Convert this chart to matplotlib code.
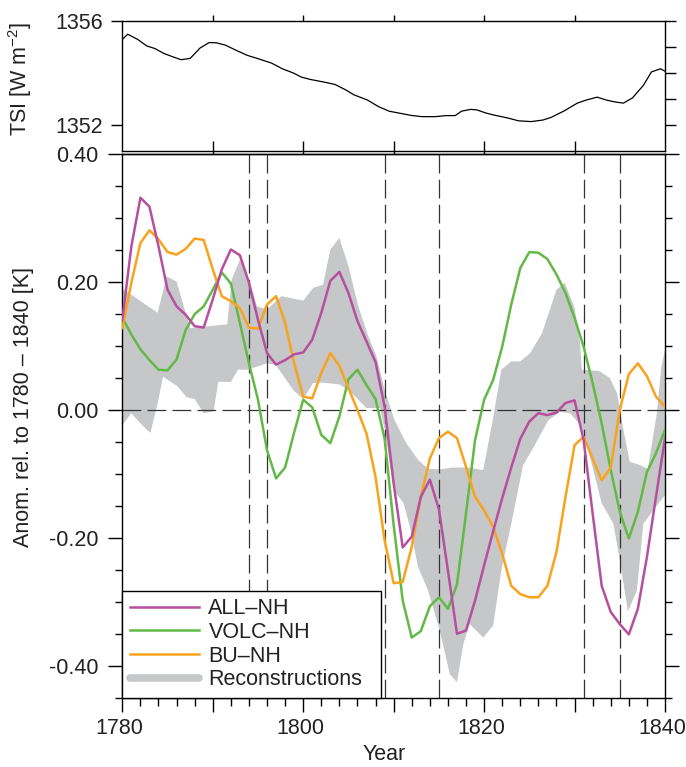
"""TSI (top) and simulated vs reconstructed NH temperature anomalies, 1780-1840."""

import matplotlib

matplotlib.use("Agg")
import matplotlib.pyplot as plt                      # noqa: E402
import matplotlib.transforms as mtransforms          # noqa: E402
import numpy as np                                   # noqa: E402
from matplotlib.lines import Line2D                  # noqa: E402
from matplotlib.ticker import FixedLocator, FixedFormatter, MultipleLocator  # noqa: E402

YEARS = np.arange(1780, 1841)

ALL_NH = [
    0.141, 0.256, 0.332, 0.318, 0.256, 0.188, 0.162, 0.149, 0.131, 0.129,
    0.173, 0.220, 0.251, 0.242, 0.199, 0.141, 0.089, 0.071, 0.078, 0.087,
    0.090, 0.110, 0.152, 0.202, 0.216, 0.183, 0.139, 0.107, 0.075, 0.005,
    -0.115, -0.215, -0.198, -0.136, -0.109, -0.155, -0.251, -0.350, -0.345, -0.298,
    -0.243, -0.190, -0.138, -0.090, -0.045, -0.018, -0.005, -0.008, -0.004, 0.011,
    0.015, -0.047, -0.162, -0.275, -0.316, -0.335, -0.351, -0.311, -0.230, -0.136,
    -0.044,
]
VOLC_NH = [
    0.144, 0.118, 0.095, 0.078, 0.063, 0.062, 0.079, 0.125, 0.150, 0.162,
    0.188, 0.215, 0.198, 0.136, 0.073, 0.016, -0.063, -0.107, -0.090, -0.035,
    0.016, 0.004, -0.039, -0.052, -0.010, 0.048, 0.063, 0.039, 0.017, -0.045,
    -0.180, -0.298, -0.356, -0.346, -0.307, -0.293, -0.311, -0.273, -0.162, -0.047,
    0.016, 0.047, 0.099, 0.165, 0.222, 0.247, 0.246, 0.236, 0.212, 0.183,
    0.144, 0.099, 0.042, -0.021, -0.094, -0.159, -0.201, -0.159, -0.097, -0.068,
    -0.031,
]
BU_NH = [
    0.128, 0.199, 0.261, 0.281, 0.267, 0.247, 0.243, 0.252, 0.268, 0.266,
    0.220, 0.178, 0.170, 0.159, 0.129, 0.127, 0.165, 0.178, 0.136, 0.073,
    0.021, 0.018, 0.058, 0.089, 0.069, 0.034, 0.000, -0.037, -0.105, -0.204,
    -0.271, -0.269, -0.214, -0.136, -0.076, -0.044, -0.034, -0.044, -0.089, -0.136,
    -0.157, -0.183, -0.225, -0.275, -0.288, -0.293, -0.293, -0.275, -0.222, -0.136,
    -0.055, -0.042, -0.076, -0.110, -0.090, 0.000, 0.056, 0.073, 0.053, 0.021,
    0.005,
]

# reconstruction envelope (upper / lower edges)
RECON_UP_YEAR = [
    1780.0, 1783.9, 1784.9, 1786.0, 1787.5, 1791.6, 1792.1, 1793.0, 1794.1, 1794.9,
    1796.0, 1797.6, 1800.0, 1801.1, 1802.2, 1803.0, 1804.0, 1805.0, 1806.1, 1807.2,
    1808.1, 1809.0, 1810.1, 1811.4, 1812.7, 1813.8, 1815.1, 1816.6, 1818.2, 1819.9,
    1820.9, 1821.9, 1823.0, 1824.0, 1825.1, 1826.4, 1828.0, 1828.9, 1830.0, 1830.6,
    1830.8, 1832.7, 1833.9, 1834.7, 1835.4, 1836.1, 1837.2, 1838.1, 1839.1, 1839.6,
    1840.0,
]
RECON_UP = [
    0.190, 0.152, 0.209, 0.201, 0.128, 0.134, 0.204, 0.235, 0.199, 0.162,
    0.157, 0.178, 0.171, 0.191, 0.196, 0.251, 0.269, 0.225, 0.162, 0.115,
    0.084, 0.031, -0.016, -0.052, -0.078, -0.092, -0.093, -0.090, -0.090, -0.094,
    -0.020, 0.063, 0.076, 0.076, 0.089, 0.120, 0.188, 0.199, 0.160, 0.105,
    0.063, 0.061, 0.050, 0.026, -0.031, -0.081, -0.086, -0.092, -0.005, 0.068,
    0.094,
]
RECON_LO_YEAR = [
    1780.0, 1781.0, 1782.0, 1783.1, 1783.9, 1784.5, 1786.1, 1787.1, 1788.0, 1789.0,
    1790.1, 1790.6, 1792.0, 1792.8, 1793.9, 1796.0, 1797.0, 1798.9, 1800.0, 1801.1,
    1802.0, 1804.0, 1805.0, 1806.1, 1807.0, 1808.5, 1809.0, 1810.0, 1811.1, 1811.8,
    1812.7, 1813.8, 1815.1, 1816.2, 1817.0, 1817.7, 1818.4, 1819.9, 1821.0, 1821.9,
    1823.0, 1824.3, 1825.6, 1827.1, 1828.4, 1829.5, 1830.8, 1831.7, 1833.0, 1834.3,
    1835.0, 1835.9, 1836.9, 1837.6, 1838.7, 1840.0,
]
RECON_LO = [
    -0.024, -0.005, -0.021, -0.036, 0.010, 0.052, 0.037, 0.020, 0.017, -0.005,
    -0.002, 0.044, 0.044, 0.063, 0.063, 0.073, 0.070, 0.031, 0.017, 0.042,
    0.043, 0.040, 0.031, 0.016, 0.003, 0.003, -0.030, -0.125, -0.146, -0.183,
    -0.246, -0.282, -0.345, -0.413, -0.426, -0.366, -0.335, -0.356, -0.337, -0.251,
    -0.178, -0.087, -0.055, -0.016, -0.003, -0.005, -0.026, -0.073, -0.146, -0.178,
    -0.235, -0.315, -0.282, -0.178, -0.157, -0.133,
]

TSI_YEAR = [
    1780.0, 1780.6, 1781.7, 1782.7, 1783.6, 1784.6, 1785.6, 1786.5, 1787.5, 1788.6,
    1789.6, 1790.4, 1791.4, 1792.6, 1793.8, 1795.0, 1796.5, 1797.7, 1798.9, 1799.8,
    1800.8, 1802.3, 1803.5, 1804.7, 1805.6, 1807.1, 1808.3, 1809.5, 1810.7, 1811.9,
    1813.1, 1814.6, 1815.8, 1816.8, 1817.5, 1818.5, 1819.2, 1820.2, 1821.1, 1822.6,
    1823.8, 1825.2, 1826.5, 1827.4, 1828.9, 1830.3, 1831.3, 1832.5, 1833.5, 1834.4,
    1835.4, 1836.4, 1837.6, 1838.5, 1839.5, 1840.0,
]
TSI = [
    1355.28, 1355.48, 1355.28, 1355.03, 1354.93, 1354.74, 1354.61, 1354.50, 1354.55, 1354.95,
    1355.16, 1355.15, 1355.06, 1354.86, 1354.67, 1354.54, 1354.37, 1354.15, 1353.99, 1353.83,
    1353.74, 1353.64, 1353.55, 1353.34, 1353.15, 1352.95, 1352.70, 1352.52, 1352.44, 1352.36,
    1352.31, 1352.31, 1352.35, 1352.35, 1352.52, 1352.59, 1352.57, 1352.45, 1352.37, 1352.26,
    1352.15, 1352.12, 1352.18, 1352.28, 1352.54, 1352.83, 1352.95, 1353.06, 1352.95, 1352.88,
    1352.83, 1353.03, 1353.51, 1354.03, 1354.15, 1354.06,
]

ERUPTIONS = [1794, 1796, 1809, 1815, 1831, 1835]

X_TICKS = [1780, 1790, 1800, 1810, 1820, 1830, 1840]
X_LABELS = ["1780", "", "1800", "", "1820", "", "1840"]
Y_TICKS = [-0.40, -0.20, 0.00, 0.20, 0.40]
Y_LABELS = ["-0.40", "-0.20", "0.00", "0.20", "0.40"]
TSI_TICKS = [1352, 1356]
TSI_LABELS = ["1352", "1356"]

C_ALL = "#b64fa0"
C_VOLC = "#63b946"
C_BU = "#f9a31c"
C_RECON = "#c6c7c9"
INK = "#222222"


def main() -> None:
    plt.rcParams["font.family"] = ["Liberation Sans", "DejaVu Sans"]
    plt.rcParams["font.size"] = 15.5
    plt.rcParams["text.color"] = INK
    plt.rcParams["axes.labelcolor"] = INK
    plt.rcParams["xtick.labelcolor"] = INK
    plt.rcParams["ytick.labelcolor"] = INK

    fig = plt.figure(figsize=(6.86, 7.67), dpi=100)
    ax_t = fig.add_axes([0.1783, 0.8035, 0.7911, 0.1695])
    ax = fig.add_axes([0.1783, 0.0904, 0.7911, 0.7085])

    # --- top panel: TSI
    ax_t.plot(TSI_YEAR, TSI, color="black", lw=0.9)
    ax_t.set_xlim(1780, 1840)
    ax_t.set_ylim(1351, 1356)
    ax_t.xaxis.set_major_locator(FixedLocator([1790, 1800, 1810, 1820, 1830]))
    ax_t.tick_params(axis="x", which="both", top=True, bottom=False,
                     labelbottom=False, direction="out", length=4, width=1)
    ax_t.yaxis.set_major_locator(FixedLocator(TSI_TICKS))
    ax_t.yaxis.set_major_formatter(FixedFormatter(TSI_LABELS))
    ax_t.yaxis.set_minor_locator(FixedLocator([1353, 1354, 1355]))
    ax_t.tick_params(axis="y", which="major", left=True, right=True,
                     direction="out", length=8, width=1, pad=6)
    ax_t.tick_params(axis="y", which="minor", left=False, right=True,
                     direction="out", length=8, width=1)
    ax_t.set_ylabel("TSI [W m$^{\\mathregular{-2}}$]")
    ax_t.yaxis.set_label_coords(-0.163, 0.55)

    # --- bottom panel: anomalies
    ax.fill(np.r_[RECON_UP_YEAR, RECON_LO_YEAR[::-1]],
            np.r_[RECON_UP, RECON_LO[::-1]],
            color=C_RECON, lw=0, zorder=1)
    ax.axhline(0, color="#333333", lw=0.9, ls=(0, (15, 5)), zorder=1.5)
    for yr in ERUPTIONS:
        ax.axvline(yr, color="#333333", lw=0.9, ls=(0, (15, 5)), zorder=1.5)

    ax.plot(YEARS, VOLC_NH, color=C_VOLC, lw=1.8, label="VOLC\u2013NH", zorder=3)
    ax.plot(YEARS, BU_NH, color=C_BU, lw=1.8, label="BU\u2013NH", zorder=3)
    ax.plot(YEARS, ALL_NH, color=C_ALL, lw=1.8, label="ALL\u2013NH", zorder=3)

    ax.set_xlim(1780, 1840)
    ax.set_ylim(-0.45, 0.40)
    ax.xaxis.set_major_locator(FixedLocator(X_TICKS))
    ax.xaxis.set_major_formatter(FixedFormatter(X_LABELS))
    ax.xaxis.set_minor_locator(MultipleLocator(2))
    ax.tick_params(axis="x", which="major", top=False, direction="out",
                   length=10, width=1, pad=5)
    ax.tick_params(axis="x", which="minor", top=False, direction="out",
                   length=5.5, width=1)
    ax.yaxis.set_major_locator(FixedLocator(Y_TICKS))
    ax.yaxis.set_major_formatter(FixedFormatter(Y_LABELS))
    ax.yaxis.set_minor_locator(MultipleLocator(0.05))
    ax.tick_params(axis="y", which="major", left=True, right=True,
                   direction="out", length=10, width=1, pad=7.5)
    ax.tick_params(axis="y", which="minor", left=True, right=True,
                   direction="out", length=5, width=1)

    # tick labels sit a touch left of their ticks; keeps 1840 inside the frame
    shift = mtransforms.ScaledTranslation(-3 / 100, 0, fig.dpi_scale_trans)
    for lab in ax.get_xticklabels():
        lab.set_transform(lab.get_transform() + shift)

    top = ax.secondary_xaxis("top")
    top.xaxis.set_major_locator(FixedLocator([1790, 1800, 1810, 1820, 1830]))
    top.tick_params(axis="x", direction="out", length=9.5, width=1,
                    labeltop=False)

    ax.set_xlabel("Year")
    ax.xaxis.set_label_coords(0.482, -0.086)
    ax.set_ylabel("Anom. rel. to 1780 \u2013 1840 [K]")
    ax.yaxis.set_label_coords(-0.163, 0.535)

    for a in (ax_t, ax):
        for sp in a.spines.values():
            sp.set_linewidth(1.0)
    for sp in top.spines.values():
        sp.set_linewidth(1.0)

    h = ax.get_legend_handles_labels()[0]
    handles = [h[2], h[0], h[1],
               Line2D([], [], color=C_RECON, lw=5.5, solid_capstyle="round")]
    labels = ["ALL\u2013NH", "VOLC\u2013NH", "BU\u2013NH", "Reconstructions"]
    leg = ax.legend(handles, labels, loc="lower left",
                    bbox_to_anchor=(0.0, 0.0, 0.476, 0.2), mode="expand",
                    borderaxespad=0, borderpad=0.35, handlelength=3.2,
                    handletextpad=0.45, labelspacing=0.12, fancybox=False,
                    framealpha=1, edgecolor="black")
    leg.get_frame().set_linewidth(1.0)
    leg.set_zorder(5)

    fig.savefig("out.png", dpi=100)
    plt.close(fig)


if __name__ == "__main__":
    main()
